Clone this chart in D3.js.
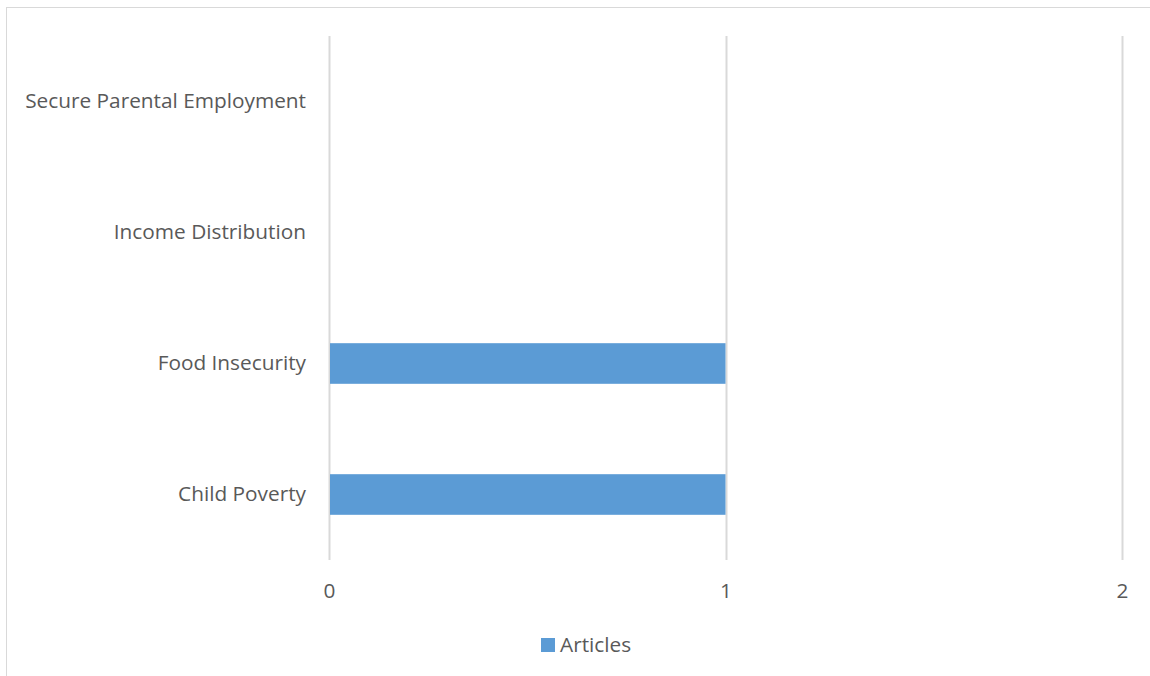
<!DOCTYPE html>
<html><head><meta charset="utf-8">
<script src="https://cdn.jsdelivr.net/npm/d3@7"></script>
<style>body{margin:0;background:#fff;} svg{display:block;}</style>
</head><body>
<svg id="c" width="1150" height="676"></svg>
<script>
const categories = ["Secure Parental Employment", "Income Distribution", "Food Insecurity", "Child Poverty"];
const articles = [0, 0, 1, 1];
const xTicks = [0, 1, 2];
const seriesName = "Articles";

const svg = d3.select("#c");
const font = "'Open Sans', 'Liberation Sans', sans-serif";
const fs = 20.8;
svg.append("rect").attr("x", 6.5).attr("y", 7.5).attr("width", 1160).attr("height", 700)
  .attr("fill", "#fff").attr("stroke", "#d9d9d9").attr("stroke-width", 1);

const x = d3.scaleLinear().domain([0, 2]).range([329, 1122]);
const y = d3.scaleBand().domain(categories).range([36, 560]).paddingInner(0.69).paddingOuter(0.345);

const g = svg.append("g");
g.selectAll("line.grid").data(xTicks).join("line").attr("class", "grid")
  .attr("x1", d => Math.round(x(d)) + 0.5).attr("x2", d => Math.round(x(d)) + 0.5)
  .attr("y1", 36).attr("y2", 560).attr("stroke", "#d9d9d9").attr("stroke-width", 2);

g.selectAll("rect.bar").data(categories).join("rect").attr("class", "bar")
  .attr("x", x(0) + 1).attr("y", d => y(d))
  .attr("width", (d, i) => Math.max(0, x(articles[i]) - x(0) - 1))
  .attr("height", y.bandwidth()).attr("fill", "#5b9bd5");

const xAxis = d3.axisBottom(x).tickValues(xTicks).tickFormat(d3.format("d")).tickSize(0).tickPadding(0);
const xa = svg.append("g").attr("transform", "translate(0,583)").call(xAxis);
xa.select(".domain").remove();
xa.selectAll("text").attr("font-family", font).attr("font-size", fs).attr("fill", "#595959").attr("dy", "0.71em");

const yAxis = d3.axisLeft(y).tickSize(0).tickPadding(23);
const ya = svg.append("g").attr("transform", "translate(329,0)").call(yAxis);
ya.select(".domain").remove();
ya.selectAll("text").attr("font-family", font).attr("font-size", fs).attr("fill", "#595959");

const lg = svg.append("g").attr("transform", "translate(541,638)");
lg.append("rect").attr("width", 14).attr("height", 14).attr("fill", "#5b9bd5");
lg.append("text").attr("x", 19).attr("y", 7).attr("dy", "0.35em").attr("font-family", font)
  .attr("font-size", fs).attr("fill", "#595959").text(seriesName);
</script>
</body></html>
